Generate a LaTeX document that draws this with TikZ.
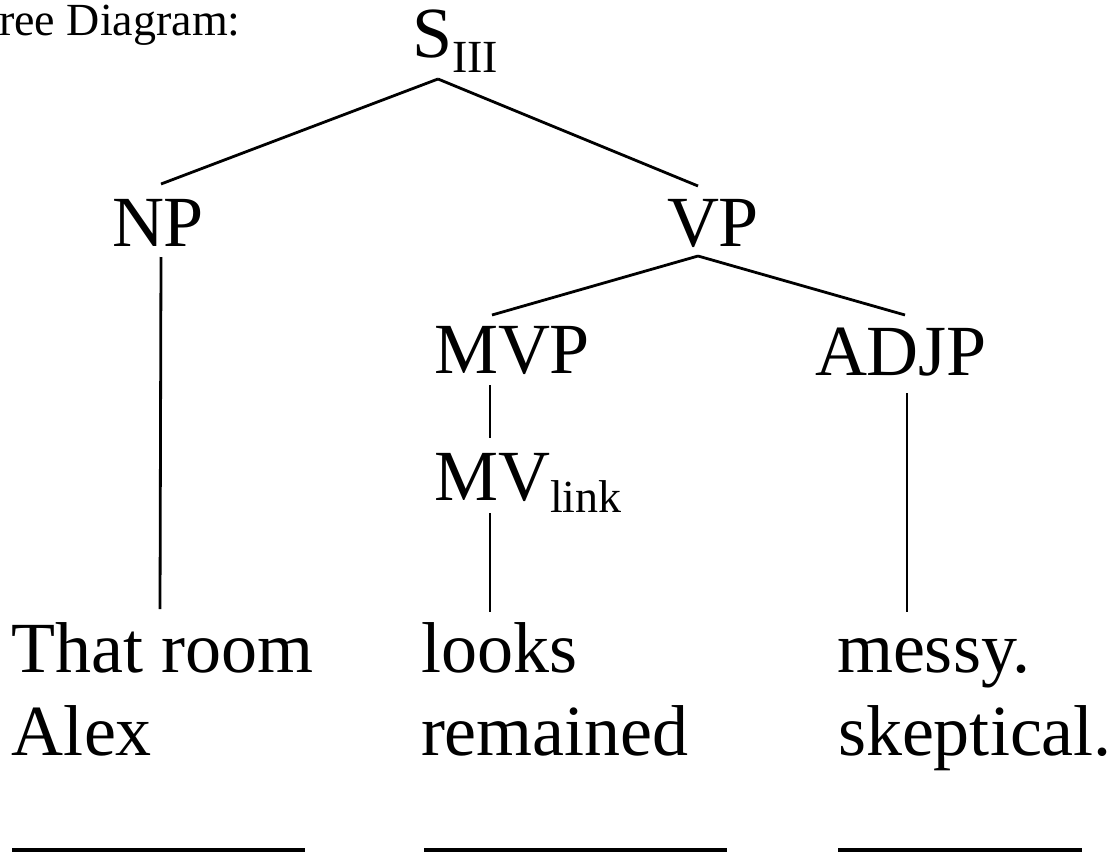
\documentclass[tikz,border=0pt]{standalone}
\usepackage{fontspec}
\setmainfont{Liberation Serif}
\newcommand\lowsub[2]{\raisebox{-#1}{\fontsize{46}{46}\selectfont #2}}
\begin{document}
\begin{tikzpicture}[x=1pt,y=-1pt,
  lbl/.style={font=\fontsize{72}{80}\selectfont, inner sep=0pt, outer sep=0pt, anchor=base west},
  branch/.style={line width=2.8pt},
  blank/.style={line width=4.5pt}]
\useasboundingbox (0,0) rectangle (1115,851);

% heading
\node[font=\fontsize{46}{52}\selectfont, inner sep=0pt, anchor=base west] (title) at (-1,36) {ree Diagram:};

% category labels
\node[lbl] (S)    at (412,58)  {S\lowsub{14pt}{III}};
\node[lbl] (NP)   at (112,246) {NP};
\node[lbl] (VP)   at (667,246) {VP};
\node[lbl] (MVP)  at (434,373) {MVP};
\node[lbl] (ADJP) at (815,375) {ADJP};
\node[lbl] (MV)   at (434,500) {MV\lowsub{12pt}{link}};

% words
\node[lbl] (w1a) at (12,672)  {That room};
\node[lbl] (w1b) at (12,755)  {Alex};
\node[lbl] (w2a) at (421,672) {looks};
\node[lbl] (w2b) at (421,755) {remained};
\node[lbl] (w3a) at (837,672) {messy.};
\node[lbl] (w3b) at (838,755) {skeptical.};

% branches
\draw[branch] ([shift={(26,21)}]S.base west) -- ([shift={(49,-62)}]NP.base west);
\draw[branch] ([shift={(26,21)}]S.base west) -- ([shift={(31,-60)}]VP.base west);
\draw[branch] ([shift={(49,11)}]NP.base west) -- ([shift={(148,-63)}]w1a.base west);
\draw[branch] ([shift={(31,10)}]VP.base west) -- ([shift={(58,-58)}]MVP.base west);
\draw[branch] ([shift={(31,10)}]VP.base west) -- ([shift={(90,-60)}]ADJP.base west);
\draw[branch] ([shift={(56,12)}]MVP.base west) -- ([shift={(56,-62)}]MV.base west);
\draw[branch] ([shift={(56,13)}]MV.base west) -- ([shift={(69,-60)}]w2a.base west);
\draw[branch] ([shift={(92,18)}]ADJP.base west) -- ([shift={(70,-60)}]w3a.base west);

% answer blanks
\draw[blank] (12,850) -- (305,850);
\draw[blank] (424,850) -- (727,850);
\draw[blank] (838,850) -- (1082,850);
\end{tikzpicture}
\end{document}
